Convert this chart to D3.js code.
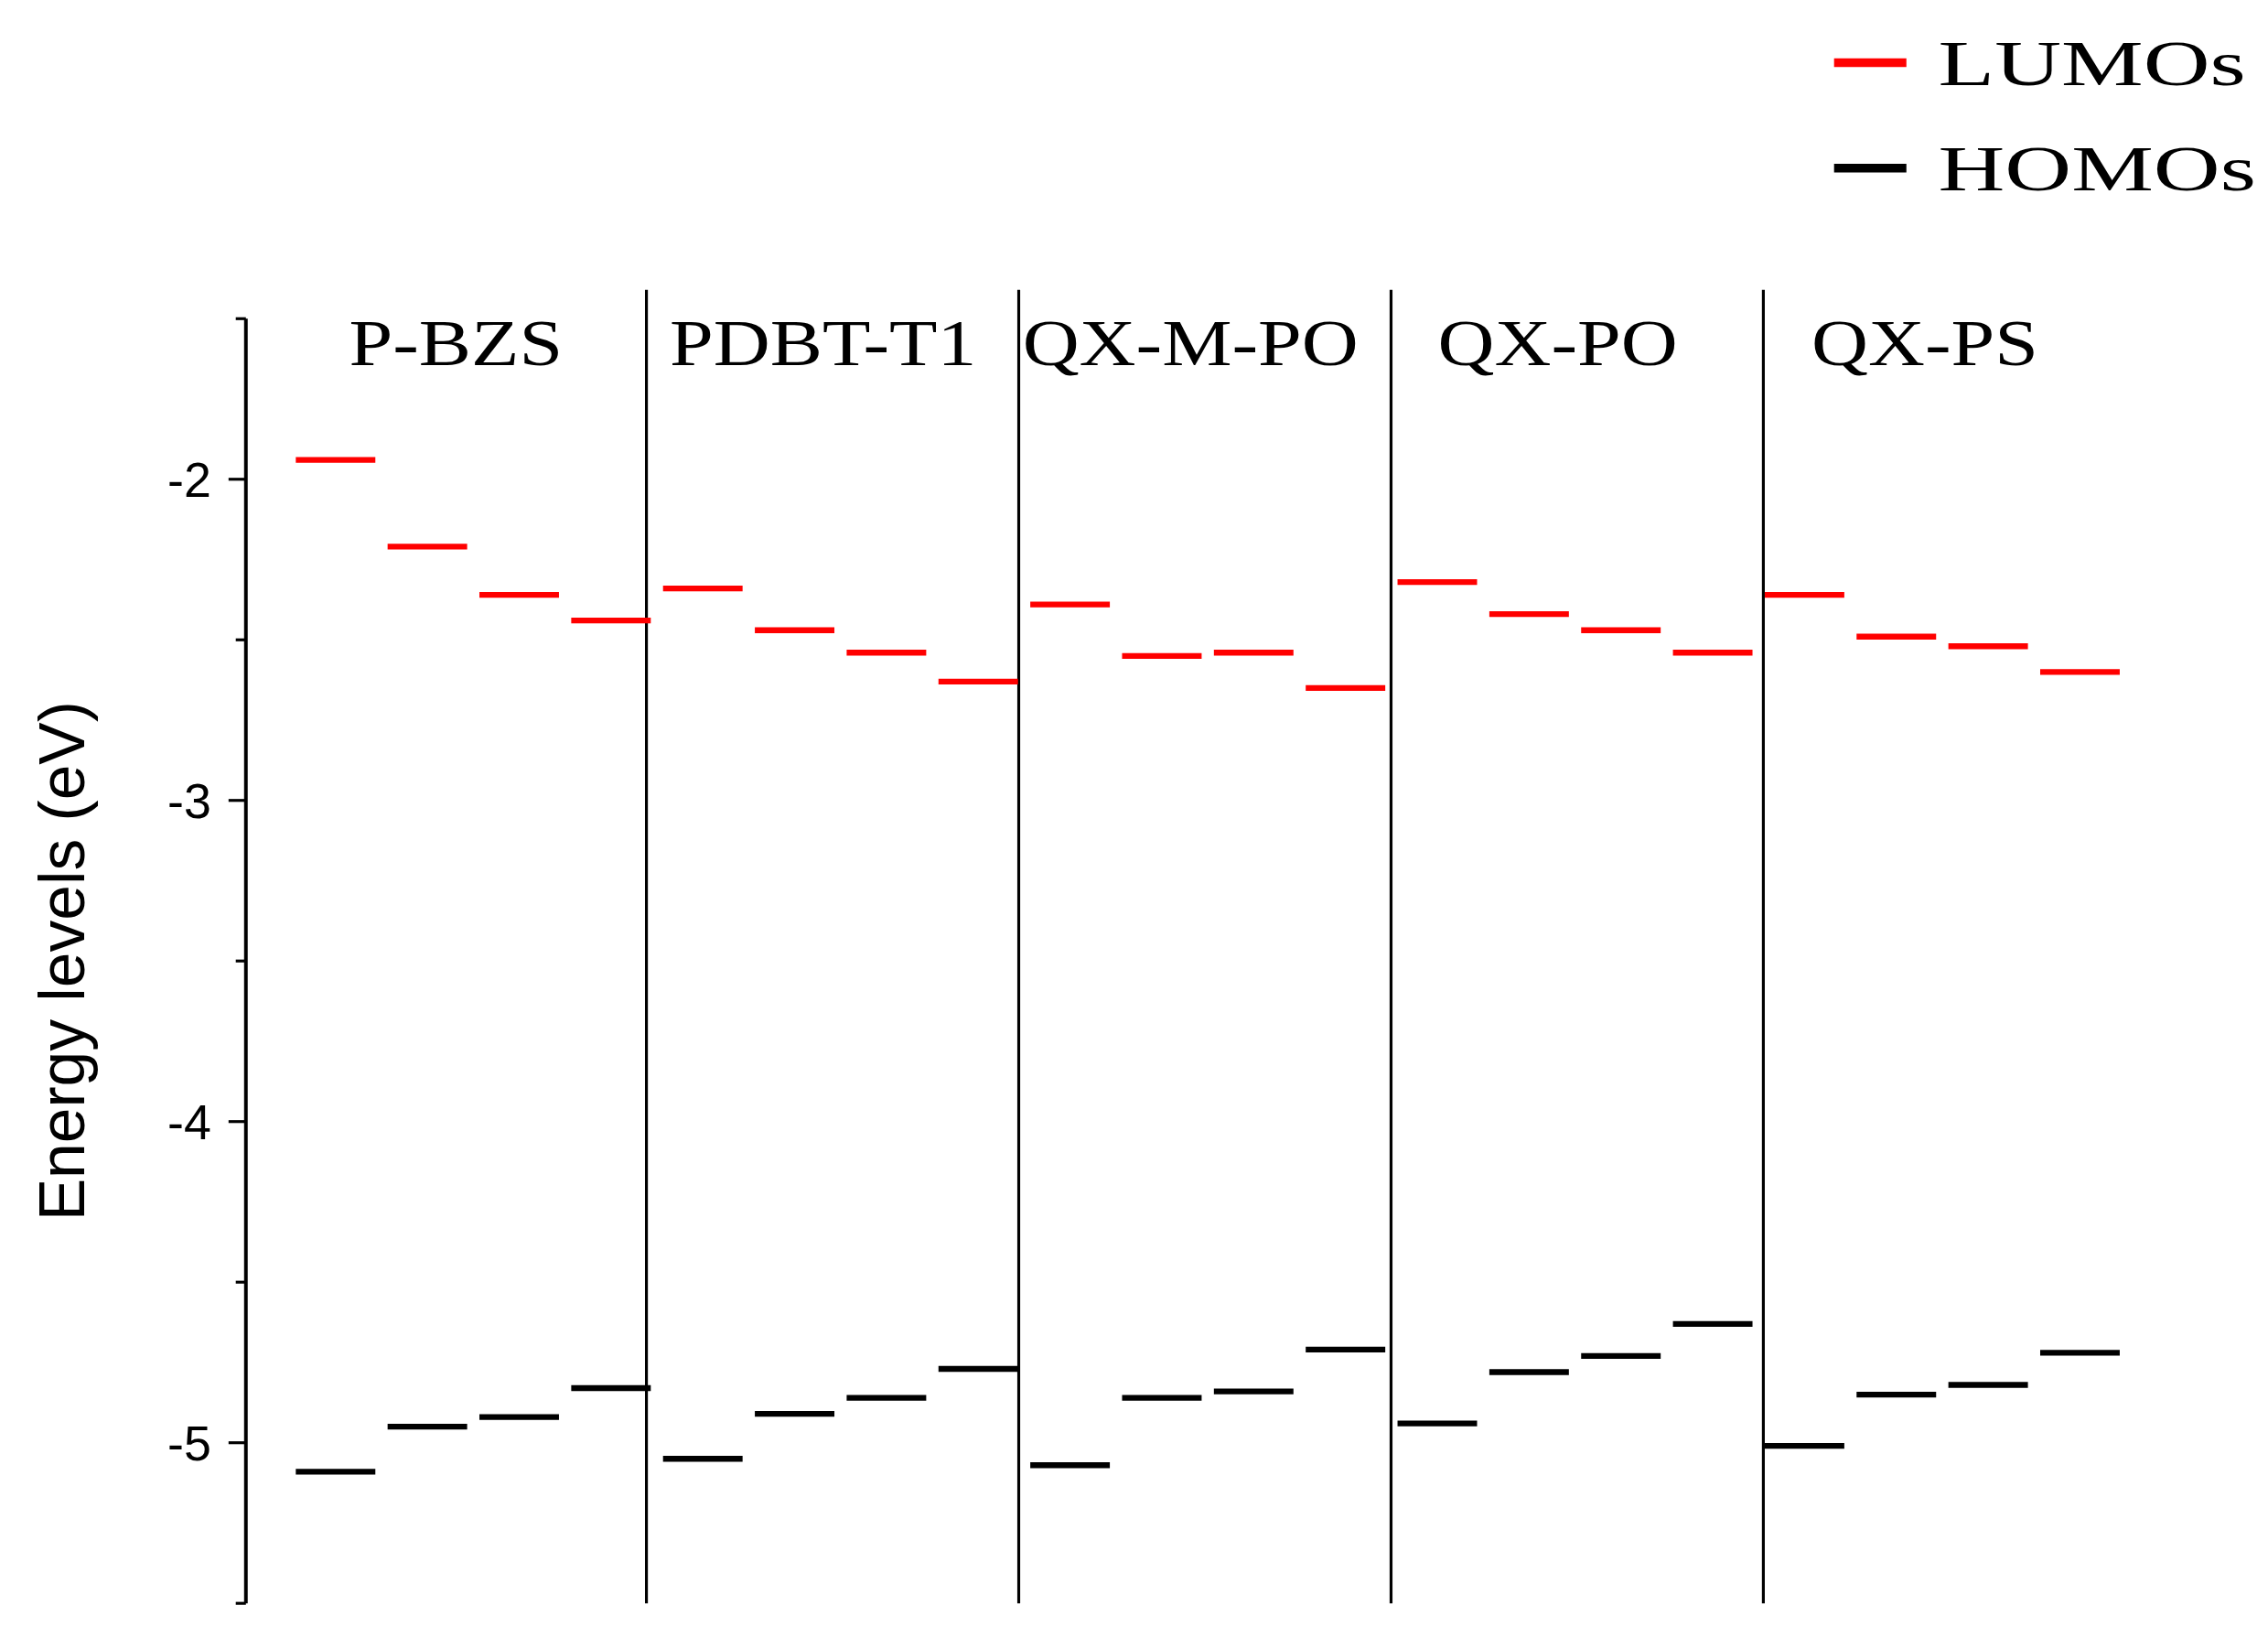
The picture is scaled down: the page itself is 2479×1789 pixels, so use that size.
<!DOCTYPE html>
<html><head><meta charset="utf-8">
<script src="https://cdn.jsdelivr.net/npm/d3@7"></script>
<style>body{margin:0;background:#fff}</style>
</head><body>
<script>
const polymers = ["P-BZS", "PDBT-T1", "QX-M-PO", "QX-PO", "QX-PS"];
const lumo = [
  [-1.94, -2.21, -2.36, -2.44],
  [-2.34, -2.47, -2.54, -2.63],
  [-2.39, -2.55, -2.54, -2.65],
  [-2.32, -2.42, -2.47, -2.54],
  [-2.36, -2.49, -2.52, -2.60]
];
const homo = [
  [-5.09, -4.95, -4.92, -4.83],
  [-5.05, -4.91, -4.86, -4.77],
  [-5.07, -4.86, -4.84, -4.71],
  [-4.94, -4.78, -4.73, -4.63],
  [-5.01, -4.85, -4.82, -4.72]
];
const yTicks = [-2, -3, -4, -5];

const svg = d3.select("body").append("svg")
  .attr("width", 2479).attr("height", 1789)
  .attr("viewBox", "0 0 1568 1131");

const y = d3.scaleLinear().domain([-1.5, -5.5]).range([220, 1108]);
const x = d3.scaleLinear().domain([0, 19]).range([232, 1438]);
const segW = 55;

// y axis
svg.append("line").attr("x1", 170).attr("x2", 170).attr("y1", y(-1.5)).attr("y2", y(-5.5))
  .attr("stroke", "#000").attr("stroke-width", 2.5);
d3.range(-1.5, -5.6, -0.5).forEach(v => {
  const major = Number.isInteger(v);
  svg.append("line").attr("x1", major ? 158 : 163).attr("x2", 170)
    .attr("y1", y(v)).attr("y2", y(v)).attr("stroke", "#000").attr("stroke-width", 2);
});
svg.selectAll(".tick").data(yTicks).join("text")
  .attr("x", 146).attr("y", d => y(d)).attr("dy", "0.35em")
  .attr("text-anchor", "end").attr("font-family", "Liberation Sans, Arial")
  .attr("font-size", 34).text(d => d);
svg.append("text").attr("transform", `translate(58,${y(-3.5)}) rotate(-90)`)
  .attr("text-anchor", "middle").attr("font-family", "Liberation Sans, Arial")
  .attr("font-size", 44).text("Energy levels (eV)");

// dividers and names
polymers.forEach((p, k) => {
  if (k > 0) {
    const dx = x(4 * k - 1) + segW / 2 - 3 + (k - 1) * 3.5;
    svg.append("line").attr("x1", dx).attr("x2", dx).attr("y1", 200).attr("y2", y(-5.5))
      .attr("stroke", "#000").attr("stroke-width", 2);
  }
  svg.append("text").attr("transform", `translate(${x(4 * k + 1.5) - 12},252) scale(1.18,1)`)
    .attr("text-anchor", "middle").attr("font-family", "Liberation Serif, Times New Roman")
    .attr("font-size", 46).text(p);
});

function levels(data, color, cls) {
  const flat = data.flatMap((row, k) => row.map((v, j) => ({ i: 4 * k + j, v })));
  svg.selectAll("." + cls).data(flat).join("line").attr("class", cls)
    .attr("x1", d => x(d.i) - segW / 2).attr("x2", d => x(d.i) + segW / 2)
    .attr("y1", d => y(d.v)).attr("y2", d => y(d.v))
    .attr("stroke", color).attr("stroke-width", 4);
}
levels(lumo, "#ff0000", "lumo");
levels(homo, "#000000", "homo");

// legend
[["LUMOs", "#ff0000", 43], ["HOMOs", "#000", 116]].forEach(([t, c, ly]) => {
  svg.append("line").attr("x1", 1268).attr("x2", 1318).attr("y1", ly).attr("y2", ly)
    .attr("stroke", c).attr("stroke-width", 6);
  svg.append("text").attr("transform", `translate(1340,${ly}) scale(1.45,1)`).attr("dy", "0.35em")
    .attr("font-family", "Liberation Serif, Times New Roman").attr("font-size", 44).text(t);
});
</script>
</body></html>
